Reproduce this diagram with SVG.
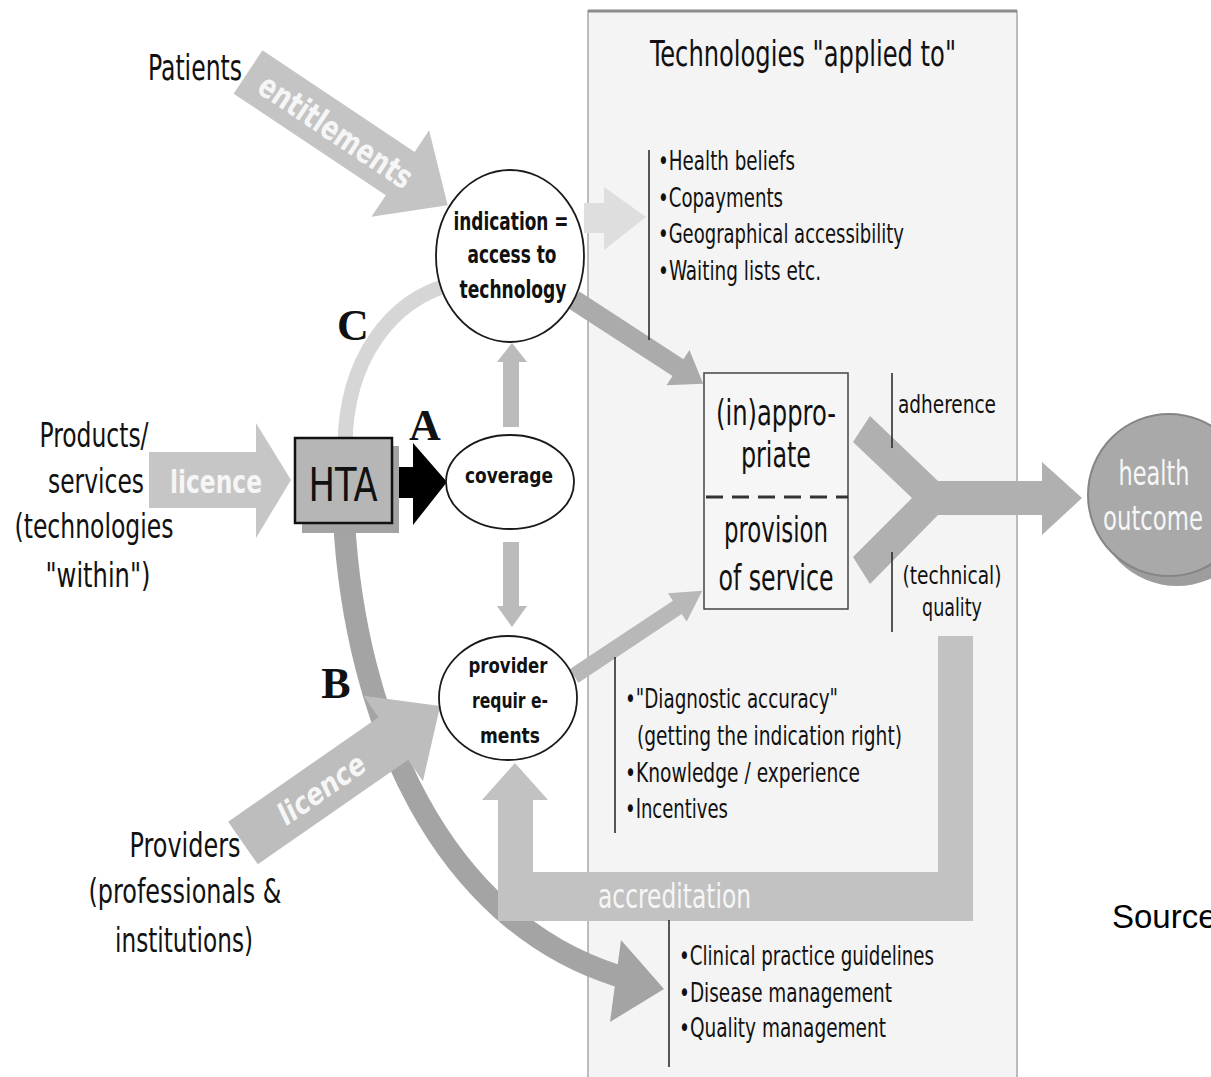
<svg xmlns="http://www.w3.org/2000/svg" width="1211" height="1077" viewBox="0 0 1211 1077">
  <style>
    .txt { font-family: 'DejaVu Sans Condensed', 'DejaVu Sans', sans-serif; fill: #111; }
    .big { font-size: 34px; }
    .list { font-size: 27px; }
    .box { font-size: 36px; }
    .side { font-size: 25px; }
    .node { font-family: 'DejaVu Sans Condensed', 'DejaVu Sans', sans-serif; font-weight: bold; fill: #111; }
    .onArrow { font-family: 'DejaVu Sans Condensed', 'DejaVu Sans', sans-serif; fill: #f6f6f6; }
    .letter { font-family: 'Liberation Serif', 'Times New Roman', serif; font-weight: bold; font-size: 44px; fill: #111; }
    .oval { fill: #ffffff; stroke: #1a1a1a; stroke-width: 1.8; }
    .rule { stroke: #222; stroke-width: 1.5; }
  </style>
  <defs>
    <!-- broad arrow used for the actor arrows that enter at an angle -->
    <polygon id="fatArrow" points="0,-26 183,-26 183,-52 240,0 183,52 183,26 0,26"/>
  </defs>

  <rect x="0" y="0" width="1211" height="1077" fill="#ffffff"/>

  <!-- shaded panel: technologies applied to -->
  <g id="panel">
    <rect x="588" y="11" width="429" height="1075" fill="#f4f4f4" stroke="#a8a8a8" stroke-width="1.5"/>
    <line x1="588" y1="11" x2="1017" y2="11" stroke="#8c8c8c" stroke-width="3"/>
  </g>

  <!-- connectors -->
  <g id="connectors">
    <!-- C: from HTA up to the indication circle -->
    <path d="M345,445 C346,360 390,300 452,284" fill="none" stroke="#d6d6d6" stroke-width="15"/>
    <!-- B: from HTA down to the guideline list -->
    <path d="M344,520 C355,720 440,920 618,976" fill="none" stroke="#a4a4a4" stroke-width="22"/>
    <polygon points="621,940 664,989 610,1022" fill="#a4a4a4"/>

    <!-- entitlements: patients to indication -->
    <g transform="translate(248,72) rotate(33.7)">
      <use href="#fatArrow" fill="#c4c4c4"/>
      <text class="onArrow" x="106" y="12" font-size="33" font-weight="bold" text-anchor="middle" textLength="178" lengthAdjust="spacingAndGlyphs">entitlements</text>
    </g>

    <!-- licence: products to HTA -->
    <polygon points="149,452 256,452 256,423 291,480 256,538 256,508 149,508" fill="#c6c6c6"/>
    <text class="onArrow" x="170" y="493" font-size="32" font-weight="bold" textLength="92" lengthAdjust="spacingAndGlyphs">licence</text>

    <!-- licence: providers to provider requirements -->
    <g transform="translate(243,843) rotate(-34.8)">
      <use href="#fatArrow" fill="#bdbdbd"/>
      <text class="onArrow" x="95" y="11" font-size="30" font-style="italic" font-weight="bold" text-anchor="middle" textLength="100" lengthAdjust="spacingAndGlyphs">licence</text>
    </g>

    <!-- A: HTA to coverage -->
    <polygon points="392,467 413,467 413,443 447,482 413,525 413,498 392,498" fill="#000000"/>

    <!-- coverage up to indication, down to provider requirements -->
    <polygon points="503,427 503,362 497,362 512,343 527,362 519,362 519,427" fill="#bbbbbb"/>
    <polygon points="503,542 519,542 519,606 527,606 512,627 497,606 503,606" fill="#bbbbbb"/>

    <!-- indication to list of access factors -->
    <polygon points="584,203 604,203 604,187 646,217 604,250 604,233 584,233" fill="#dedede"/>

    <!-- indication to the service box -->
    <g transform="translate(574,300) rotate(33)">
      <polygon points="0,-10 124,-10 124,-21 154,0 124,21 124,10 0,10" fill="#ababab"/>
    </g>

    <!-- provider requirements to the service box -->
    <g transform="translate(574,676) rotate(-33.6)">
      <polygon points="0,-8 124,-8 124,-17 154,0 124,17 124,8 0,8" fill="#b8b8b8"/>
    </g>

    <!-- adherence and quality merge into health outcome -->
    <polygon points="870,416 938,481 1042,481 1042,462 1082,498 1042,535 1042,515 938,515 870,584 853,557 912,498 853,442" fill="#b0b0b0"/>

    <!-- accreditation: quality back to provider requirements -->
    <polygon points="938,636 973,636 973,921 498,921 498,800 482,800 515,763 548,800 533,800 533,872 938,872" fill="#c2c2c2"/>
    <text class="onArrow" x="598" y="908" font-size="34" textLength="153" lengthAdjust="spacingAndGlyphs">accreditation</text>
  </g>

  <!-- title of the panel -->
  <g id="panel-title">
    <text class="txt" x="650" y="66" font-size="36" textLength="306" lengthAdjust="spacingAndGlyphs">Technologies "applied to"</text>
  </g>

  <!-- access factors -->
  <g id="access-list">
    <line class="rule" x1="649" y1="150" x2="649" y2="340"/>
    <text class="txt list" x="658" y="170" textLength="137" lengthAdjust="spacingAndGlyphs">•Health beliefs</text>
    <text class="txt list" x="658" y="207" textLength="125" lengthAdjust="spacingAndGlyphs">•Copayments</text>
    <text class="txt list" x="658" y="243" textLength="246" lengthAdjust="spacingAndGlyphs">•Geographical accessibility</text>
    <text class="txt list" x="658" y="280" textLength="163" lengthAdjust="spacingAndGlyphs">•Waiting lists etc.</text>
  </g>

  <!-- provider factors -->
  <g id="provider-list">
    <line class="rule" x1="615" y1="657" x2="615" y2="833"/>
    <text class="txt list" x="625" y="708" textLength="213" lengthAdjust="spacingAndGlyphs">•"Diagnostic accuracy"</text>
    <text class="txt list" x="637" y="745" textLength="265" lengthAdjust="spacingAndGlyphs">(getting the indication right)</text>
    <text class="txt list" x="625" y="782" textLength="235" lengthAdjust="spacingAndGlyphs">•Knowledge / experience</text>
    <text class="txt list" x="625" y="818" textLength="103" lengthAdjust="spacingAndGlyphs">•Incentives</text>
  </g>

  <!-- guidance instruments -->
  <g id="guidance-list">
    <line class="rule" x1="669" y1="920" x2="669" y2="1067"/>
    <text class="txt list" x="679" y="965" textLength="255" lengthAdjust="spacingAndGlyphs">•Clinical practice guidelines</text>
    <text class="txt list" x="679" y="1002" textLength="213" lengthAdjust="spacingAndGlyphs">•Disease management</text>
    <text class="txt list" x="679" y="1037" textLength="207" lengthAdjust="spacingAndGlyphs">•Quality management</text>
  </g>

  <!-- appropriateness / provision of service -->
  <g id="service-box">
    <rect x="704" y="373" width="144" height="236" fill="#f6f6f6" stroke="#444" stroke-width="1.5"/>
    <line x1="706" y1="497" x2="848" y2="497" stroke="#333" stroke-width="3" stroke-dasharray="17 9"/>
    <text class="txt box" x="776" y="425" text-anchor="middle" textLength="120" lengthAdjust="spacingAndGlyphs">(in)appro-</text>
    <text class="txt box" x="776" y="467" text-anchor="middle" textLength="70" lengthAdjust="spacingAndGlyphs">priate</text>
    <text class="txt box" x="776" y="542" text-anchor="middle" textLength="104" lengthAdjust="spacingAndGlyphs">provision</text>
    <text class="txt box" x="776" y="590" text-anchor="middle" textLength="115" lengthAdjust="spacingAndGlyphs">of service</text>
  </g>

  <g id="adherence">
    <line class="rule" x1="892" y1="373" x2="892" y2="448"/>
    <text class="txt side" x="898" y="413" textLength="98" lengthAdjust="spacingAndGlyphs">adherence</text>
  </g>

  <g id="quality">
    <line class="rule" x1="892" y1="552" x2="892" y2="632"/>
    <text class="txt side" x="952" y="584" text-anchor="middle" textLength="99" lengthAdjust="spacingAndGlyphs">(technical)</text>
    <text class="txt side" x="952" y="616" text-anchor="middle" textLength="60" lengthAdjust="spacingAndGlyphs">quality</text>
  </g>

  <g id="health-outcome">
    <circle cx="1177" cy="505" r="81" fill="#9d9d9d"/>
    <circle cx="1169" cy="495" r="81" fill="#a9a9a9" stroke="#858585" stroke-width="2"/>
    <text class="onArrow" x="1154" y="485" font-size="34" fill="#ececec" text-anchor="middle" textLength="71" lengthAdjust="spacingAndGlyphs">health</text>
    <text class="onArrow" x="1153" y="530" font-size="34" fill="#ececec" text-anchor="middle" textLength="100" lengthAdjust="spacingAndGlyphs">outcome</text>
  </g>

  <!-- actors -->
  <g id="patients">
    <text class="txt" x="148" y="80" font-size="35" textLength="94" lengthAdjust="spacingAndGlyphs">Patients</text>
  </g>

  <g id="products">
    <text class="txt big" x="94" y="447" text-anchor="middle" textLength="109" lengthAdjust="spacingAndGlyphs">Products/</text>
    <text class="txt big" x="96" y="493" text-anchor="middle" textLength="96" lengthAdjust="spacingAndGlyphs">services</text>
    <text class="txt big" x="94" y="538" text-anchor="middle" textLength="159" lengthAdjust="spacingAndGlyphs">(technologies</text>
    <text class="txt big" x="98" y="587" text-anchor="middle" textLength="105" lengthAdjust="spacingAndGlyphs">"within")</text>
  </g>

  <g id="providers">
    <text class="txt big" x="185" y="857" text-anchor="middle" textLength="111" lengthAdjust="spacingAndGlyphs">Providers</text>
    <text class="txt big" x="185" y="903" text-anchor="middle" textLength="193" lengthAdjust="spacingAndGlyphs">(professionals &amp;</text>
    <text class="txt big" x="184" y="952" text-anchor="middle" textLength="138" lengthAdjust="spacingAndGlyphs">institutions)</text>
  </g>

  <!-- HTA box with drop shadow -->
  <g id="hta">
    <rect x="302" y="446" width="97" height="87" fill="#a3a3a3"/>
    <rect x="295" y="438" width="97" height="85" fill="#b6b6b6" stroke="#111" stroke-width="2.5"/>
    <text class="txt" x="343" y="501" font-size="46" text-anchor="middle" textLength="69" lengthAdjust="spacingAndGlyphs">HTA</text>
  </g>

  <g id="indication">
    <ellipse class="oval" cx="510" cy="256" rx="74" ry="86"/>
    <text class="node" x="511" y="230" font-size="24" text-anchor="middle" textLength="115" lengthAdjust="spacingAndGlyphs">indication =</text>
    <text class="node" x="512" y="263" font-size="24" text-anchor="middle" textLength="89" lengthAdjust="spacingAndGlyphs">access to</text>
    <text class="node" x="513" y="298" font-size="24" text-anchor="middle" textLength="107" lengthAdjust="spacingAndGlyphs">technology</text>
  </g>

  <g id="coverage">
    <ellipse class="oval" cx="510" cy="482" rx="64" ry="47"/>
    <text class="node" x="509" y="483" font-size="22" text-anchor="middle" textLength="88" lengthAdjust="spacingAndGlyphs">coverage</text>
  </g>

  <g id="provider-requirements">
    <ellipse class="oval" cx="508" cy="698" rx="69" ry="62"/>
    <text class="node" x="508" y="673" font-size="22" text-anchor="middle" textLength="79" lengthAdjust="spacingAndGlyphs">provider</text>
    <text class="node" x="510" y="708" font-size="22" text-anchor="middle" textLength="76" lengthAdjust="spacingAndGlyphs">requir e-</text>
    <text class="node" x="510" y="743" font-size="22" text-anchor="middle" textLength="60" lengthAdjust="spacingAndGlyphs">ments</text>
  </g>

  <!-- path letters -->
  <g id="label-a"><text class="letter" x="425" y="440" text-anchor="middle">A</text></g>
  <g id="label-b"><text class="letter" x="336" y="698" text-anchor="middle">B</text></g>
  <g id="label-c"><text class="letter" x="353" y="340" text-anchor="middle">C</text></g>

  <g id="source">
    <text x="1112" y="928" font-family="'Liberation Sans', Arial, sans-serif" font-size="33" fill="#000">Source</text>
  </g>
</svg>
